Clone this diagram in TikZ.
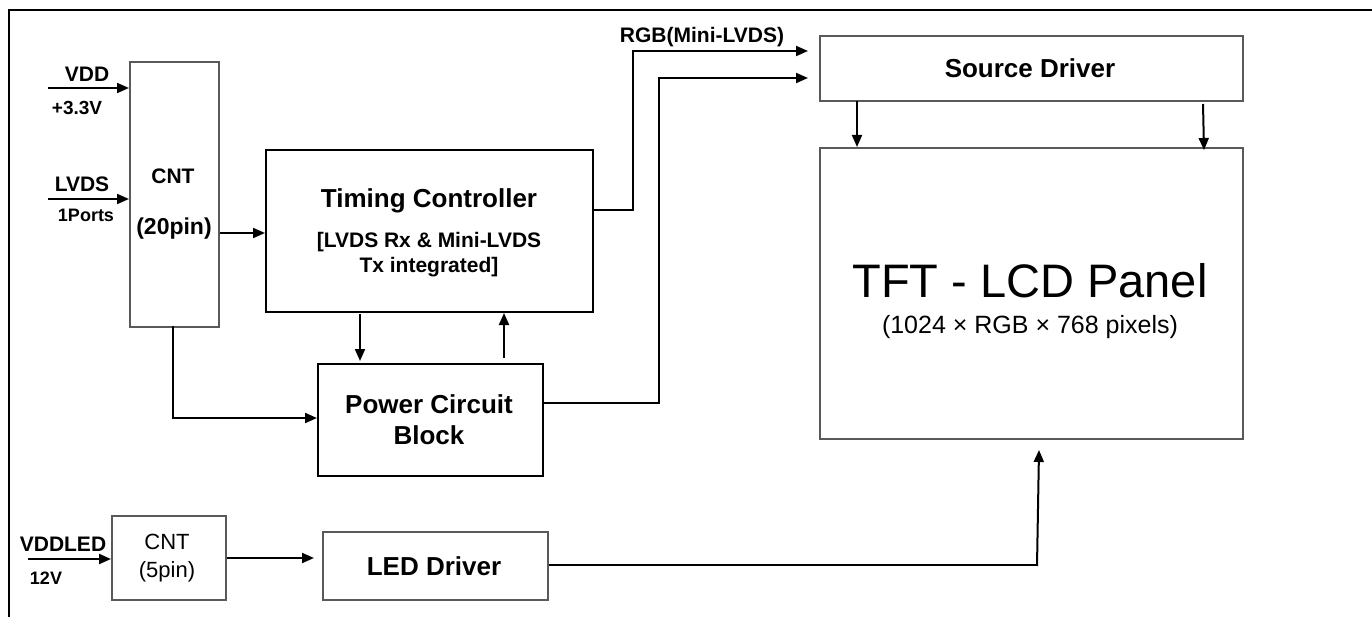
\documentclass[tikz,border=0pt]{standalone}
\usepackage{fontspec}
\setmainfont{Liberation Sans}
\usetikzlibrary{arrows.meta}
\newcommand{\fs}[1]{\fontsize{#1}{#1}\selectfont}
\tikzset{
  box/.style={draw=black, line width=1.6pt, inner sep=0pt},
  gbox/.style={draw=black!65, line width=1.6pt, inner sep=0pt},
  wire/.style={line width=2pt},
  arr/.style={line width=2pt, -{Triangle[length=12pt,width=10pt]}},
  txt/.style={inner sep=0pt, anchor=base},
  bigb/.style={txt, font=\fs{26}\bfseries},
  midb/.style={txt, font=\fs{21}\bfseries},
  smb/.style={txt, font=\fs{19}\bfseries},
  reg/.style={txt, font=\fs{22}},
}
\begin{document}
\begin{tikzpicture}[x=1pt,y=-1pt]
\useasboundingbox (0,0) rectangle (1372,617);
% frame
\draw[line width=2.2pt] (1372,10) -- (9,10) -- (9,617);

% boxes
\node[gbox, anchor=north west, minimum width=89pt, minimum height=265pt] (cnt) at (129,61) {};
\node[box, anchor=north west, minimum width=327pt, minimum height=162pt] (tc) at (265,149) {};
\node[box, anchor=north west, minimum width=225pt, minimum height=112pt] (pcb) at (317,363) {};
\node[gbox, anchor=north west, minimum width=423pt, minimum height=65pt] (src) at (819,35) {};
\node[gbox, anchor=north west, minimum width=423pt, minimum height=291pt] (panel) at (819,147) {};
\node[gbox, anchor=north west, minimum width=114pt, minimum height=84pt] (cnt5) at (111,515) {};
\node[gbox, anchor=north west, minimum width=225pt, minimum height=68pt] (led) at (322,531) {};

% texts
\node[midb] (tVDD) at (87,82) {VDD};
\node[smb] (t33) at (77,115) {+3.3V};
\node[midb] (tLVDS) at (82,192) {LVDS};
\node[txt, font=\fs{18}\bfseries] (t1P) at (86,222) {1Ports};
\node[midb] (tCNT) at (173,184) {CNT};
\node[txt, font=\fs{23}\bfseries] (t20) at (174,235) {(20pin)};
\node[bigb] (tTC) at (429,208) {Timing Controller};
\node[midb] (tTC2) at (429,248) {[LVDS Rx \& Mini-LVDS};
\node[midb] (tTC3) at (429,273) {Tx integrated]};
\node[bigb] (tPC1) at (429,413) {Power Circuit};
\node[bigb] (tPC2) at (429,444) {Block};
\node[midb] (tRGB) at (702,43) {RGB(Mini-LVDS)};
\node[bigb] (tSD) at (1030,78) {Source Driver};
\node[txt, font=\fs{47}] (tTFT) at (1030,298) {TFT - LCD Panel};
\node[txt, font=\fs{25}] (tRes) at (1030,333) {(1024 × RGB × 768 pixels)};
\node[midb] (tVL) at (63,551) {VDDLED};
\node[txt, font=\fs{18}\bfseries] (t12) at (46,584) {12V};
\node[reg] (tC5) at (167,549) {CNT};
\node[reg] (t5p) at (167,577) {(5pin)};
\node[bigb] (tLED) at (434,575) {LED Driver};

% input arrows
\coordinate (vddin) at (48,88);
\coordinate (lvdsin) at (48,199);
\coordinate (vledin) at (28,559);
\draw[arr] (vddin) -- (vddin -| cnt.west);
\draw[arr] (lvdsin) -- (lvdsin -| cnt.west);
\draw[arr] (vledin) -- (vledin -| cnt5.west);

% CNT -> TC
\draw[arr] (cnt.east |- 0,233) -- (tc.west |- 0,233);
% CNT -> PCB
\draw[arr] (173,326) -- (173,418) -- (pcb.west |- 0,418);
% TC <-> PCB
\draw[arr] (360,314) -- (360,361);
\draw[arr] (504,358) -- (504,313);
% TC -> Source Driver
\draw[wire] (tc.east |- 0,210) -- (633,210) -- (633,51);
\draw[arr] (632,51) -- (808,51);
% PCB -> Source Driver
\draw[wire] (pcb.east |- 0,403) -- (659,403) -- (659,78);
\draw[arr] (658,78) -- (808,78);
% Source -> Panel
\draw[arr] (857,101) -- (857,147);
\draw[arr] (1203,104) -- (1204,150);
% CNT5 -> LED
\draw[arr] (cnt5.east |- 0,558) -- (314,558);
% LED -> Panel
\draw[wire] (led.east |- 0,565) -- (1038,565);
\draw[arr] (1037,566) -- (1039,450);
\end{tikzpicture}
\end{document}
